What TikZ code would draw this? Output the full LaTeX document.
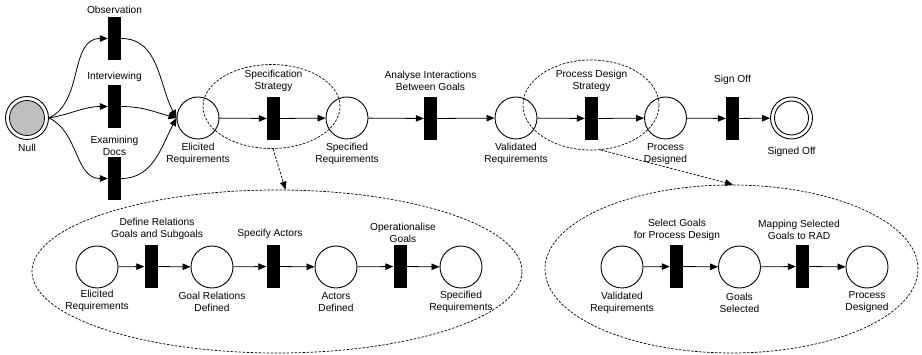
\documentclass[tikz,border=0pt]{standalone}
\usepackage{fontspec}
\setmainfont{Liberation Sans}
\usetikzlibrary{arrows.meta,shapes.geometric}

\begin{document}
\begin{tikzpicture}[x=1pt,y=-1pt,
  every node/.style={font=\fontsize{10.2}{12}\selectfont},
  place/.style={circle,draw,line width=0.9pt,minimum size=42pt,inner sep=0pt},
  trans/.style={rectangle,fill=black,minimum width=13pt,minimum height=43pt,inner sep=0pt},
  lbl/.style={align=center,inner sep=0pt},
  arc/.style={line width=0.8pt,-{Triangle[length=8pt,width=6.5pt]}},
  region/.style={ellipse,draw,dashed,dash pattern=on 2.5pt off 1.5pt,line width=0.7pt,inner sep=0pt},
  refine/.style={dashed,dash pattern=on 2.5pt off 1.5pt,line width=0.7pt,-{Triangle[length=8pt,width=6.5pt]}}
]
\useasboundingbox (0,0) rectangle (922,355);

% ---------- main net ----------
\node[place,minimum size=43pt] (null) at (27,118) {};
\node[circle,fill=black!25,draw,line width=0.8pt,minimum size=35pt,inner sep=0pt] (nullin) at (27,118) {};
\node[lbl] (nullL) at (27,148) {Null};

\node[trans] (obs) at (114.5,38.5) {};
\node[lbl] (obsL) at (114.5,10) {Observation};
\node[trans] (int) at (114.5,106.5) {};
\node[lbl] (intL) at (114.5,77) {Interviewing};
\node[trans] (exd) at (114.5,178.5) {};
\node[lbl] (exdL) at (114.5,146) {Examining\\Docs};

\node[place] (elic) at (198,118) {};
\node[lbl] (elicL) at (198,154) {Elicited\\Requirements};

\node[trans] (spec) at (273.5,118.5) {};
\node[lbl] (specL) at (273.5,81) {Specification\\Strategy};

\node[place] (sreq) at (347,118) {};
\node[lbl] (sreqL) at (347,154) {Specified\\Requirements};

\node[trans] (anl) at (430.5,118.5) {};
\node[lbl] (anlL) at (430.5,81) {Analyse Interactions\\Between Goals};

\node[place] (vreq) at (516,118) {};
\node[lbl] (vreqL) at (516,154) {Validated\\Requirements};

\node[trans] (pds) at (591.5,118.5) {};
\node[lbl] (pdsL) at (591.5,81) {Process Design\\Strategy};

\node[place] (pdes) at (665.5,118) {};
\node[lbl] (pdesL) at (665.5,154) {Process\\Designed};

\node[trans] (sign) at (732.5,118.5) {};
\node[lbl] (signL) at (732.5,80) {Sign Off};

\node[place] (soff) at (791.5,118) {};
\node[circle,draw,line width=0.9pt,minimum size=34pt,inner sep=0pt] (soffin) at (791.5,118) {};
\node[lbl] (soffL) at (791.5,152) {Signed Off};

\draw[arc] (null.east) to[out=25,in=180] (obs.west);
\draw[arc] (null.east) to[out=10,in=180] (int.west);
\draw[arc] (null.east) to[out=-25,in=180] (exd.west);
\draw[arc] (obs.east) to[out=0,in=118] (elic.west);
\draw[arc] (int.east) to[out=0,in=165] (elic.west);
\draw[arc] (exd.east) to[out=0,in=-118] (elic.west);

\draw[arc] (elic) -- (spec);
\draw[arc] (spec) -- (sreq);
\draw[arc] (sreq) -- (anl);
\draw[arc] (anl) -- (vreq);
\draw[arc] (vreq) -- (pds);
\draw[arc] (pds) -- (pdes);
\draw[arc] (pdes) -- (sign);
\draw[arc] (sign) -- (soff);

% ---------- refinement regions ----------
\node[region,minimum width=137pt,minimum height=84pt] (specR) at (271.5,106.5) {};
\node[region,minimum width=136pt,minimum height=90pt] (pdsR) at (591,105) {};
\node[region,minimum width=490pt,minimum height=163pt] (specSub) at (277,271.5) {};
\node[region,minimum width=373pt,minimum height=168pt] (pdsSub) at (731.5,269) {};

\draw[refine] (specR.-88) -- (specSub.84);
\draw[refine] (pdsR.-78) -- (pdsSub.89);

% ---------- specification strategy subnet ----------
\node[place] (a1) at (97,267) {};
\node[lbl] (a1L) at (97,301) {Elicited\\Requirements};
\node[trans] (t1) at (151,266.5) {};
\node[lbl] (t1L) at (157,228.5) {Define Relations\\Goals and Subgoals};
\node[place] (a2) at (212,267) {};
\node[lbl] (a2L) at (212,302) {Goal Relations\\Defined};
\node[trans] (t2) at (273,266.5) {};
\node[lbl] (t2L) at (270,234) {Specify Actors};
\node[place] (a3) at (336,267) {};
\node[lbl] (a3L) at (336,302) {Actors\\Defined};
\node[trans] (t3) at (400,266.5) {};
\node[lbl] (t3L) at (403,232.5) {Operationalise\\Goals};
\node[place] (a4) at (461,267) {};
\node[lbl] (a4L) at (461,302) {Specified\\Requirements};

\draw[arc] (a1) -- (t1);
\draw[arc] (t1) -- (a2);
\draw[arc] (a2) -- (t2);
\draw[arc] (t2) -- (a3);
\draw[arc] (a3) -- (t3);
\draw[arc] (t3) -- (a4);

% ---------- process design strategy subnet ----------
\node[place] (b1) at (622,267) {};
\node[lbl] (b1L) at (622,302.5) {Validated\\Requirements};
\node[trans] (u1) at (676.5,266.5) {};
\node[lbl] (u1L) at (677,229.5) {Select Goals\\for Process Design};
\node[place] (b2) at (739.5,267) {};
\node[lbl] (b2L) at (739.5,302.5) {Goals\\Selected};
\node[trans] (u2) at (802.5,266.5) {};
\node[lbl] (u2L) at (799,229.5) {Mapping Selected\\Goals to RAD};
\node[place] (b3) at (867,267) {};
\node[lbl] (b3L) at (867,302) {Process\\Designed};

\draw[arc] (b1) -- (u1);
\draw[arc] (u1) -- (b2);
\draw[arc] (b2) -- (u2);
\draw[arc] (u2) -- (b3);
\end{tikzpicture}
\end{document}
